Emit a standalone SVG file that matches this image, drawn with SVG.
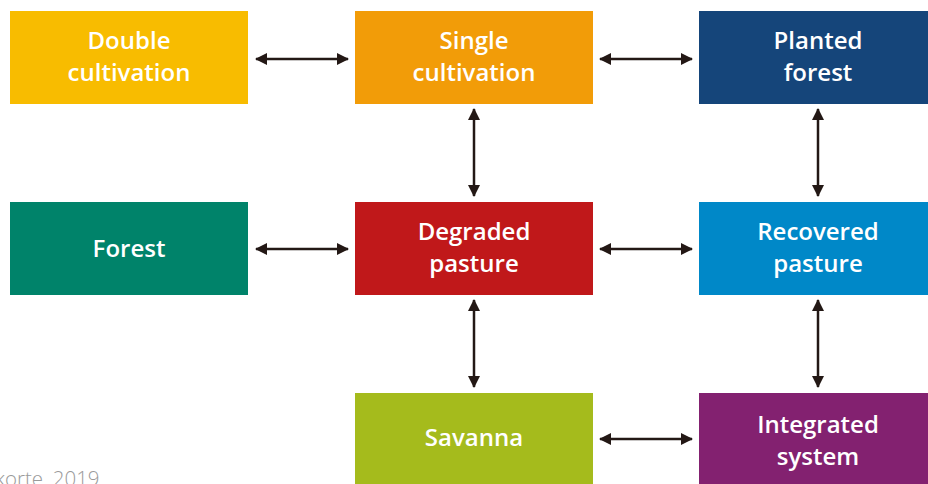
<svg xmlns="http://www.w3.org/2000/svg" width="928" height="484" viewBox="0 0 928 484">
<style>
.box text{fill:#fff;font-family:"Open Sans","Liberation Sans",sans-serif;font-weight:600;font-size:24px;text-anchor:middle}
.conn line{stroke:#231815;stroke-width:2.5;marker-start:url(#ah);marker-end:url(#ah)}
.src{fill:#9a9a9a;font-family:"Open Sans","Liberation Sans",sans-serif;font-size:20.5px;font-weight:300}
</style>
<defs>
<marker id="ah" viewBox="0 0 12 12" refX="11" refY="6" markerWidth="12" markerHeight="12" markerUnits="userSpaceOnUse" orient="auto-start-reverse">
<path d="M0,0 L12,6 L0,12 Z" fill="#231815"/>
</marker>
</defs>
<rect width="928" height="484" fill="#fff"/>
<g id="double"  class="box"><rect x="10" y="11" width="238" height="93" fill="#F8BC00"/><text x="129" y="49">Double</text><text x="129" y="81">cultivation</text></g>
<g id="single"  class="box"><rect x="355" y="11" width="238" height="93" fill="#F29C08"/><text x="474" y="49">Single</text><text x="474" y="81">cultivation</text></g>
<g id="planted" class="box"><rect x="699" y="11" width="238" height="93" fill="#15457A"/><text x="818" y="49">Planted</text><text x="818" y="81">forest</text></g>
<g id="forest"  class="box"><rect x="10" y="202" width="238" height="93" fill="#00836A"/><text x="129" y="257">Forest</text></g>
<g id="degraded" class="box"><rect x="355" y="202" width="238" height="93" fill="#C0181A"/><text x="474" y="240">Degraded</text><text x="474" y="272">pasture</text></g>
<g id="recovered" class="box"><rect x="699" y="202" width="238" height="93" fill="#0088C8"/><text x="818" y="240">Recovered</text><text x="818" y="272">pasture</text></g>
<g id="savanna" class="box"><rect x="355" y="393" width="238" height="93" fill="#A5BB1C"/><text x="474" y="446">Savanna</text></g>
<g id="integrated" class="box"><rect x="699" y="393" width="238" height="93" fill="#832170"/><text x="818" y="433">Integrated</text><text x="818" y="465">system</text></g>
<g id="connectors" class="conn">
<line x1="256" y1="59" x2="348" y2="59"/>
<line x1="600" y1="59" x2="692" y2="59"/>
<line x1="474" y1="109" x2="474" y2="196"/>
<line x1="818" y1="109" x2="818" y2="196"/>
<line x1="256" y1="249" x2="348" y2="249"/>
<line x1="600" y1="249" x2="692" y2="249"/>
<line x1="474" y1="300" x2="474" y2="387"/>
<line x1="818" y1="300" x2="818" y2="387"/>
<line x1="600" y1="439" x2="692" y2="439"/>
</g>
<text class="src" x="-5" y="486">korte, 2019</text>
</svg>
